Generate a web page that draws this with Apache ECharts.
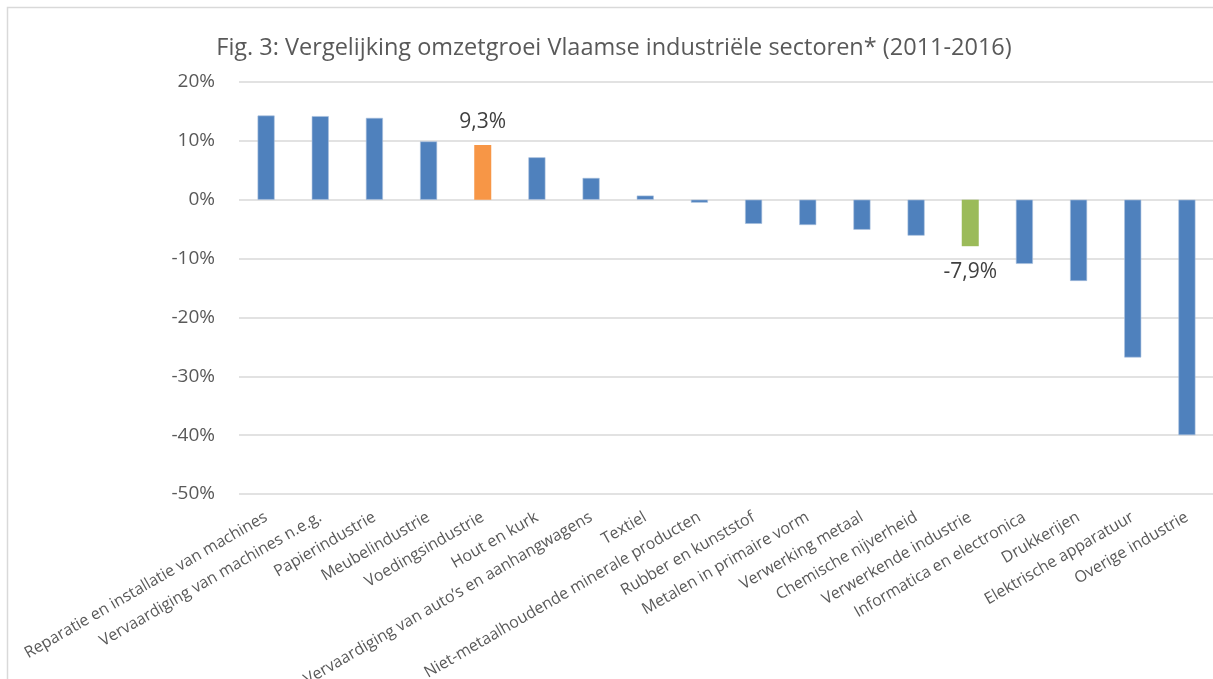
<!DOCTYPE html>
<html>
<head>
<meta charset="utf-8">
<script src="https://cdn.jsdelivr.net/npm/echarts@6/dist/echarts.min.js"></script>
<style>
  html, body { margin: 0; padding: 0; background: #fff; }
  #chart { width: 1213px; height: 679px; }
</style>
</head>
<body>
<div id="chart"></div>
<script>
// sectoren en omzetgroei (%)
const sectors = [
  "Reparatie en installatie van machines",
  "Vervaardiging van machines n.e.g.",
  "Papierindustrie",
  "Meubelindustrie",
  "Voedingsindustrie",
  "Hout en kurk",
  "Vervaardiging van auto’s en aanhangwagens",
  "Textiel",
  "Niet-metaalhoudende minerale producten",
  "Rubber en kunststof",
  "Metalen in primaire vorm",
  "Verwerking metaal",
  "Chemische nijverheid",
  "Verwerkende industrie",
  "Informatica en electronica",
  "Drukkerijen",
  "Elektrische apparatuur",
  "Overige industrie"
];
const growth = [14.3, 14.2, 13.9, 9.9, 9.3, 7.2, 3.7, 0.7, -0.5, -4.1, -4.3, -5.1, -6.1, -7.9, -10.9, -13.8, -26.8, -40.0];
const yTicks = [-50, -40, -30, -20, -10, 0, 10, 20];
// uitgelichte balken
const highlight = { "Voedingsindustrie": "#F79646", "Verwerkende industrie": "#9BBB59" };

const FONT = "Open Sans";
const chart = echarts.init(document.getElementById("chart"));

const option = {
  backgroundColor: "#fff",
  textStyle: { fontFamily: FONT },
  title: {
    text: "Fig. 3: Vergelijking omzetgroei Vlaamse industriële sectoren* (2011-2016)",
    left: 609,
    top: 31,
    textAlign: "center",
    textStyle: { fontFamily: FONT, fontSize: 23.5, fontWeight: "normal", color: "#595959" }
  },
  graphic: [{
    type: "rect",
    shape: { x: 7.5, y: 7.5, width: 1240, height: 700 },
    style: { fill: "none", stroke: "#D9D9D9", lineWidth: 1.5 },
    silent: true
  }],
  grid: { left: 239, right: -1, top: 82, bottom: 185, containLabel: false, outerBoundsMode: "none" },
  xAxis: {
    type: "category",
    data: sectors,
    axisLine: { show: false },
    axisTick: { show: false },
    axisLabel: {
      interval: 0,
      rotate: 30,
      margin: 22,
      fontFamily: FONT,
      fontSize: 16,
      color: "#595959"
    }
  },
  yAxis: {
    type: "value",
    min: yTicks[0],
    max: yTicks[yTicks.length - 1],
    interval: 10,
    axisLine: { show: false },
    axisTick: { show: false },
    splitLine: { lineStyle: { color: "#D9D9D9", width: 1.5 } },
    axisLabel: {
      margin: 24,
      fontFamily: FONT,
      fontSize: 19,
      color: "#595959",
      formatter: (v) => v + "%"
    }
  },
  series: [{
    type: "bar",
    barWidth: 17,
    data: growth.map((v, i) => {
      const c = highlight[sectors[i]];
      const item = { value: v, itemStyle: { color: c || "#4F81BD", borderColor: c ? c : "#A7C0DE", borderWidth: c ? 0 : 0.6 } };
      if (c) {
        item.label = {
          show: true,
          position: v >= 0 ? "top" : "bottom",
          distance: v >= 0 ? 12 : 15,
          fontFamily: FONT,
          fontSize: 21,
          color: "#404040",
          formatter: (p) => p.value.toFixed(1).replace(".", ",") + "%"
        };
      }
      return item;
    })
  }]
};

chart.setOption(option);
</script>
</body>
</html>
